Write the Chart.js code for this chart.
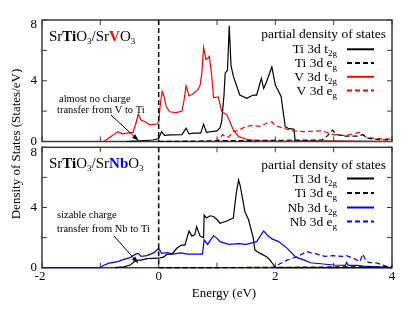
<!DOCTYPE html>
<html><head><meta charset="utf-8">
<script src="https://cdn.jsdelivr.net/npm/chart.js@4.4.1/dist/chart.umd.min.js"></script>
<style>
html,body{margin:0;padding:0;background:#fff;}
#wrap{position:relative;width:415px;height:312px;overflow:hidden;}
canvas{position:absolute;left:0;top:0;}
</style></head><body>
<div id="wrap"><canvas id="c1" width="415" height="312"></canvas><canvas id="c2" width="415" height="312"></canvas></div>
<script>
// ---- axes ----
const xTicks = [-2,-1,0,1,2,3,4];
const xTickLabels = ['-2','','0','','2','','4'];
const yTicks = [0,2,4,6,8];
const yTickLabels = ['0','','4','','8'];

// ---- top panel: SrTiO3/SrVO3 ----
const topVT2gE = [-0.94,-0.83,-0.70,-0.62,-0.55,-0.44,-0.39,-0.35,-0.30,-0.23,-0.15,-0.03,0.0,0.03,0.06,0.09,0.13,0.19,0.30,0.40,0.43,0.47,0.52,0.57,0.67,0.71,0.74,0.77,0.81,0.85,0.87,0.91,0.94,0.98,1.02,1.08,1.17,1.22,1.28,1.37,1.51,1.70,2.0,4.0];
const topVT2g  = [0,0.3,0.65,0.5,0.55,0.6,1.2,1.79,1.4,1.3,1.1,1.15,1.3,2.5,3.3,3.0,2.3,1.96,1.9,2.0,2.6,3.65,3.0,3.1,3.4,3.7,4.5,6.2,5.4,5.5,5.6,4.3,2.9,2.9,2.95,2.0,1.74,1.3,0.76,0.32,0.15,0.05,0.02,0.0];
const topTiT2gE = [-0.55,-0.3,-0.1,0.0,0.05,0.1,0.2,0.4,0.47,0.52,0.6,0.72,0.77,0.82,0.9,1.0,1.05,1.08,1.12,1.14,1.18,1.21,1.24,1.28,1.39,1.51,1.62,1.68,1.76,1.80,1.85,1.94,2.0,2.06,2.10,2.13,2.17,2.22,2.32,2.34,4.0];
const topTiT2g  = [0,0.05,0.1,0.2,0.65,0.4,0.43,0.45,0.87,0.5,0.55,0.55,1.13,0.6,0.65,0.7,0.9,1.3,3.06,4.5,4.7,7.62,5.0,4.3,3.06,2.84,3.06,3.06,4.16,3.5,3.94,4.92,3.72,3.28,2.95,2.07,0.97,0.87,0.8,0.05,0];
const topTiEgE = [0,1.0,2.8,2.9,2.98,3.05,3.2,3.4,3.5,3.6,3.8,4.0];
const topTiEg  = [0,0.05,0.1,0.4,0.75,0.45,0.35,0.35,0.45,0.2,0.12,0.1];
const topVEgE = [0,0.95,1.0,1.05,1.1,1.15,1.2,1.28,1.35,1.5,1.6,1.75,1.85,1.94,2.0,2.14,2.3,2.5,2.8,3.0,3.2,3.45,3.55,3.7,4.0];
const topVEg  = [0,0,0.05,0.25,0.45,0.3,0.3,0.65,0.7,1.0,1.05,1.0,1.2,1.3,1.05,0.87,0.7,0.65,0.7,0.45,0.4,0.6,0.3,0.2,0.15];

// ---- bottom panel: SrTiO3/SrNbO3 ----
const botNbT2gE = [-2,-1.0,-0.95,-0.85,-0.7,-0.6,-0.5,-0.4,-0.35,-0.3,-0.2,-0.08,0.0,0.05,0.15,0.25,0.37,0.5,0.75,0.78,0.84,0.94,1.0,1.05,1.2,1.37,1.5,1.68,1.8,1.88,1.95,2.05,2.2,2.35,2.5,2.6,3.0,3.2,3.22,3.25,3.4,3.5,4.0];
const botNbT2g  = [0,0,0.15,0.3,0.4,0.55,0.65,0.9,0.95,0.75,0.8,1.0,1.29,0.96,1.0,0.9,0.98,0.9,0.9,1.85,1.55,2.13,1.95,1.73,1.55,1.6,1.55,1.73,2.44,2.1,1.9,1.75,1.3,0.7,0.5,0.33,0.18,0.15,0.35,0.15,0.15,0.1,0];
const botTiT2gE = [-0.75,-0.6,-0.49,-0.38,-0.3,-0.2,0.0,0.08,0.14,0.23,0.31,0.39,0.45,0.52,0.57,0.62,0.65,0.71,0.77,0.78,0.82,0.88,0.94,1.0,1.05,1.17,1.22,1.28,1.33,1.37,1.40,1.48,1.54,1.62,1.65,1.74,1.85,1.91,1.97,2.0,4.0];
const botTiT2g  = [0,0.05,0.18,0.51,0.5,0.6,0.63,0.7,0.88,0.9,1.29,1.5,1.5,2.44,2.1,2.2,2.73,2.1,2.0,3.5,3.3,3.45,3.4,3.2,2.95,3.1,3.2,3.3,4.95,5.83,5.4,3.7,3.2,2.0,1.17,0.95,0.73,0.5,0.18,0,0];
const botTiEgE = [0,2.0,3.0,4.0];
const botTiEg  = [0,0.02,0.05,0.05];
const botNbEgE = [0,1.95,2.02,2.2,2.37,2.54,2.6,2.72,2.85,3.0,3.15,3.22,3.35,3.45,3.5,3.55,3.6,3.75,3.9,4.0];
const botNbEg  = [0,0,0.15,0.5,0.73,1.07,1.0,0.9,0.75,0.8,0.75,0.8,0.6,0.4,0.9,0.5,0.35,0.3,0.1,0.05];

const SERIF = "'Liberation Serif','Times New Roman',serif";
const pts = (xs, ys) => xs.map((x, i) => ({x: x, y: ys[i]}));

function ds(label, xs, ys, color, dashed) {
  return {label, data: pts(xs, ys), borderColor: color, borderWidth: 1.2,
    borderDash: dashed ? [5, 3] : [], pointRadius: 0, tension: 0, fill: false, clip: 2};
}

function drawRich(ctx, segs, x, y, align, size, subRatio) {
  const subSize = Math.round(size * (subRatio || 0.68));
  let total = 0;
  const parts = segs.map(s => {
    ctx.font = (s.b ? 'bold ' : '') + (s.sub ? subSize : size) + 'px ' + SERIF;
    const w = ctx.measureText(s.t).width;
    total += w;
    return {s, w};
  });
  let cx = align === 'right' ? x - total : x;
  ctx.textBaseline = 'alphabetic';
  ctx.textAlign = 'left';
  parts.forEach(p => {
    ctx.font = (p.s.b ? 'bold ' : '') + (p.s.sub ? subSize : size) + 'px ' + SERIF;
    ctx.fillStyle = p.s.c || '#000';
    ctx.fillText(p.s.t, cx, y + (p.s.sub ? 3 : 0));
    cx += p.w;
  });
}

function arrow(ctx, x1, y1, x2, y2) {
  ctx.save();
  ctx.strokeStyle = '#000'; ctx.fillStyle = '#000'; ctx.lineWidth = 1; ctx.setLineDash([]);
  ctx.beginPath(); ctx.moveTo(x1, y1); ctx.lineTo(x2, y2); ctx.stroke();
  const a = Math.atan2(y2 - y1, x2 - x1), L = 7, W = 0.35;
  ctx.beginPath(); ctx.moveTo(x2, y2);
  ctx.lineTo(x2 - L * Math.cos(a - W), y2 - L * Math.sin(a - W));
  ctx.lineTo(x2 - L * Math.cos(a + W), y2 - L * Math.sin(a + W));
  ctx.closePath(); ctx.fill();
  ctx.restore();
}

function panelPlugin(cfg) {
  return {
    id: 'panel',
    beforeDatasetsDraw(chart) {
      const ctx = chart.ctx, a = chart.chartArea;
      const xs = chart.scales.x, ys = chart.scales.y;
      ctx.save();
      ctx.strokeStyle = '#3a3a3a'; ctx.lineWidth = 1.5;
      ctx.strokeRect(a.left, a.top, a.right - a.left, a.bottom - a.top);
      ctx.lineWidth = 1;
      xTicks.forEach(v => {
        const p = xs.getPixelForValue(v);
        ctx.beginPath();
        ctx.moveTo(p, a.bottom); ctx.lineTo(p, a.bottom - 5);
        ctx.moveTo(p, a.top); ctx.lineTo(p, a.top + 5);
        ctx.stroke();
      });
      yTicks.forEach(v => {
        const p = ys.getPixelForValue(v);
        ctx.beginPath();
        ctx.moveTo(a.left, p); ctx.lineTo(a.left + 5, p);
        ctx.moveTo(a.right, p); ctx.lineTo(a.right - 5, p);
        ctx.stroke();
      });
      ctx.restore();
    },
    afterDatasetsDraw(chart) {
      const ctx = chart.ctx, a = chart.chartArea;
      const xs = chart.scales.x, ys = chart.scales.y;
      ctx.save();
      ctx.strokeStyle = '#000'; ctx.lineWidth = 1.5; ctx.setLineDash([5, 3]);
      const x0 = xs.getPixelForValue(0);
      ctx.beginPath(); ctx.moveTo(x0, a.top); ctx.lineTo(x0, a.bottom); ctx.stroke();
      ctx.setLineDash([]);
      ctx.fillStyle = '#000';
      ctx.font = '13px ' + SERIF;
      ctx.textAlign = 'right'; ctx.textBaseline = 'middle';
      yTicks.forEach((v, i) => {
        if (!yTickLabels[i]) return;
        const off = (v === 8) ? 5 : 0;
        ctx.fillText(yTickLabels[i], a.left - 5, ys.getPixelForValue(v) + off);
      });
      if (cfg.xLabels) {
        ctx.textAlign = 'center'; ctx.textBaseline = 'middle';
        xTicks.forEach((v, i) => {
          if (!xTickLabels[i]) return;
          ctx.fillText(xTickLabels[i], xs.getPixelForValue(v) - (v < 0 ? 2 : 0), a.bottom + 9);
        });
        ctx.font = '13px ' + SERIF;
        ctx.fillText('Energy (eV)', 224, 294);
        ctx.save();
        ctx.translate(17, 144); ctx.rotate(-Math.PI / 2);
        ctx.fillText('Density of States (States/eV)', 0, 0);
        ctx.restore();
      }
      drawRich(ctx, cfg.title, a.left + 7, a.top + 21, 'left', 15, 0.6);
      ctx.font = '13.5px ' + SERIF; ctx.textAlign = 'right'; ctx.textBaseline = 'alphabetic';
      ctx.fillStyle = '#000';
      ctx.fillText('partial density of states', 386, cfg.legTop + 4.5);
      cfg.legend.forEach((e, i) => {
        const y = cfg.legY[i];
        drawRich(ctx, e.segs, 337, y + 4, 'right', 13.5);
        ctx.strokeStyle = e.color; ctx.lineWidth = 2;
        ctx.setLineDash(e.dash ? [5, 3] : []);
        ctx.beginPath(); ctx.moveTo(347, y); ctx.lineTo(374, y); ctx.stroke();
        ctx.setLineDash([]);
      });
      ctx.font = '10.5px ' + SERIF; ctx.textAlign = 'left'; ctx.textBaseline = 'middle';
      ctx.fillStyle = '#000';
      ctx.fillText(cfg.note[0], cfg.noteX[0], cfg.noteY[0]);
      ctx.fillText(cfg.note[1], cfg.noteX[1], cfg.noteY[1]);
      arrow(ctx, cfg.arrow[0], cfg.arrow[1], cfg.arrow[2], cfg.arrow[3]);
      ctx.restore();
    }
  };
}

function makeChart(id, datasets, padding, cfg) {
  return new Chart(document.getElementById(id), {
    type: 'line',
    data: {datasets},
    options: {
      responsive: false, animation: false, devicePixelRatio: 1,
      layout: {padding},
      plugins: {legend: {display: false}, tooltip: {enabled: false}},
      scales: {
        x: {type: 'linear', min: -2, max: 4, display: false},
        y: {type: 'linear', min: 0, max: 8, display: false}
      }
    },
    plugins: [panelPlugin(cfg)]
  });
}

makeChart('c1', [
  ds('Ti 3d eg', topTiEgE, topTiEg, '#000', true),
  ds('V 3d eg', topVEgE, topVEg, '#ff0000', true),
  ds('V 3d t2g', topVT2gE, topVT2g, '#ff0000', false),
  ds('Ti 3d t2g', topTiT2gE, topTiT2g, '#000', false)
], {left: 42, right: 23, top: 20, bottom: 170.5}, {
  xLabels: false,
  title: [{t:'Sr'},{t:'Ti',b:true},{t:'O'},{t:'3',sub:true},{t:'/Sr'},{t:'V',b:true,c:'#ff0000'},{t:'O'},{t:'3',sub:true}],
  legTop: 33.3, legY: [49.3, 63, 76.8, 90.5],
  legend: [
    {segs:[{t:'Ti 3d t'},{t:'2g',sub:true}], color:'#000', dash:false},
    {segs:[{t:'Ti 3d e'},{t:'g',sub:true}], color:'#000', dash:true},
    {segs:[{t:'V 3d t'},{t:'2g',sub:true}], color:'#ff0000', dash:false},
    {segs:[{t:'V 3d e'},{t:'g',sub:true}], color:'#ff0000', dash:true}
  ],
  note: ['almost no charge', 'transfer from V to Ti'], noteX: [59, 57], noteY: [99, 110],
  arrow: [111, 115, 138.5, 140.5]
});

makeChart('c2', [
  ds('Ti 3d eg', botTiEgE, botTiEg, '#000', true),
  ds('Nb 3d eg', botNbEgE, botNbEg, '#0000ff', true),
  ds('Nb 3d t2g', botNbT2gE, botNbT2g, '#0000ff', false),
  ds('Ti 3d t2g', botTiT2gE, botTiT2g, '#000', false)
], {left: 42, right: 23, top: 147.3, bottom: 44.3}, {
  xLabels: true,
  title: [{t:'Sr'},{t:'Ti',b:true},{t:'O'},{t:'3',sub:true},{t:'/Sr'},{t:'Nb',b:true,c:'#0000ff'},{t:'O'},{t:'3',sub:true}],
  legTop: 164, legY: [178.5, 193, 207.5, 221.5],
  legend: [
    {segs:[{t:'Ti 3d t'},{t:'2g',sub:true}], color:'#000', dash:false},
    {segs:[{t:'Ti 3d e'},{t:'g',sub:true}], color:'#000', dash:true},
    {segs:[{t:'Nb 3d t'},{t:'2g',sub:true}], color:'#0000ff', dash:false},
    {segs:[{t:'Nb 3d e'},{t:'g',sub:true}], color:'#0000ff', dash:true}
  ],
  note: ['sizable charge', 'transfer from Nb to Ti'], noteX: [57, 57], noteY: [215.5, 229],
  arrow: [114, 236, 138, 263]
});
</script>
</body></html>
